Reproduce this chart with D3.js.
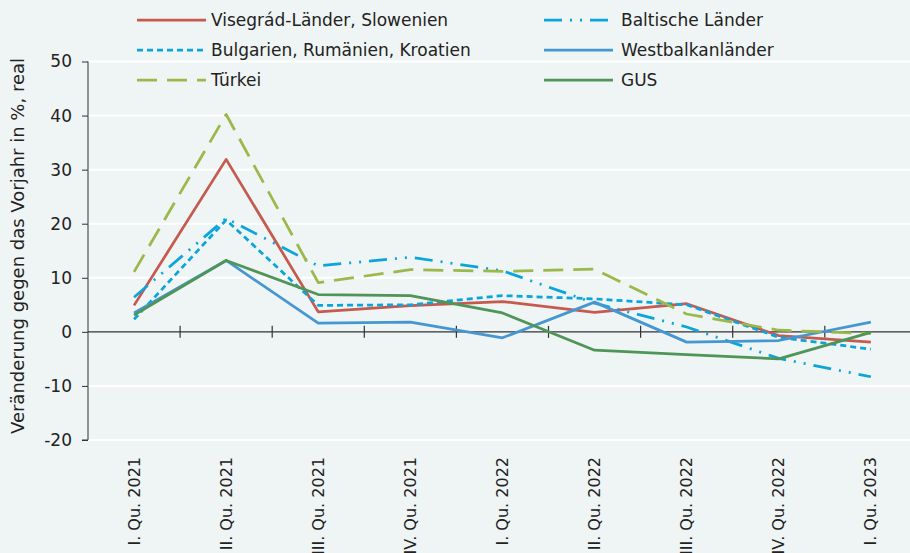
<!DOCTYPE html>
<html lang="de">
<head>
    <meta charset="UTF-8">
    <title>Veränderung gegen das Vorjahr</title>
</head>
<script src="https://d3js.org/d3.v7.min.js"></script>
<style>
    body { margin: 0; }
    svg { display: block; font-family: "DejaVu Sans", sans-serif; }
    .line { fill: none; stroke-width: 2.75px; stroke-linejoin: round; }
</style>
<body>
<svg width="910" height="553"></svg>

<script>
    // Daten
    var quarters = ["I. Qu. 2021", "II. Qu. 2021", "III. Qu. 2021", "IV. Qu. 2021",
        "I. Qu. 2022", "II. Qu. 2022", "III. Qu. 2022", "IV. Qu. 2022", "I. Qu. 2023"];

    var visegrad   = [4.9, 31.9, 3.7, 4.85, 5.6, 3.6, 5.2, -0.7, -1.9];
    var baltikum   = [6.4, 21.0, 12.2, 13.8, 11.3, 5.3, 0.9, -4.9, -8.3];
    var bulgarien  = [2.3, 20.7, 4.9, 5.0, 6.7, 6.1, 5.0, -1.0, -3.2];
    var westbalkan = [3.5, 13.2, 1.6, 1.8, -1.1, 5.5, -1.9, -1.6, 1.8];
    var tuerkei    = [11.1, 40.2, 9.1, 11.5, 11.2, 11.6, 3.3, 0.3, -0.3];
    var gus        = [3.1, 13.2, 6.9, 6.7, 3.5, -3.4, -4.2, -5.0, -0.1];

    var yTicks = [-20, -10, 0, 10, 20, 30, 40, 50];
    var yLabel = "Veränderung gegen das Vorjahr in %, real";

    var series = [
        {name: "Visegrád-Länder, Slowenien", values: visegrad, color: "#C55A4F", dash: null},
        {name: "Baltische Länder", values: baltikum, color: "#0AA5DC", dash: "18,8,2,8,2,8"},
        {name: "Bulgarien, Rumänien, Kroatien", values: bulgarien, color: "#0AA5DC", dash: "6,4"},
        {name: "Westbalkanländer", values: westbalkan, color: "#4597D2", dash: null},
        {name: "Türkei", values: tuerkei, color: "#9BB84A", dash: "20,10"},
        {name: "GUS", values: gus, color: "#4E9557", dash: null}
    ];

    var svg = d3.select("svg"),
        W = +svg.attr("width"),
        H = +svg.attr("height"),
        plotLeft = 88, plotTop = 61.5, plotBottom = 440;

    svg.append("rect").attr("width", W).attr("height", H).attr("fill", "#EFF4F4");

    var x = d3.scaleBand().domain(quarters).range([plotLeft, plotLeft + 92.1 * quarters.length]),
        y = d3.scaleLinear().domain([-20, 50]).range([plotBottom, plotTop]);

    // Gitterlinien
    svg.append("g")
        .selectAll("line")
        .data(yTicks.filter(function(t) { return t !== 0; }))
        .enter().append("line")
        .attr("x1", plotLeft).attr("x2", W)
        .attr("y1", function(d) { return y(d); })
        .attr("y2", function(d) { return y(d); })
        .attr("stroke", "#fff")
        .attr("stroke-width", 2);

    // y-Achse
    var yAxis = svg.append("g")
        .attr("transform", "translate(" + plotLeft + ",0)")
        .call(d3.axisLeft(y).tickValues(yTicks).tickSize(6).tickPadding(10)
            .tickFormat(function(d) { return String(d); }));
    yAxis.selectAll("path, line").attr("stroke", "#333");
    yAxis.selectAll("text").attr("font-size", 17).attr("fill", "#222")
        .attr("font-family", "DejaVu Sans, sans-serif");
    yAxis.select(".domain").attr("d", "M0," + y(50) + "V" + y(-20) + "H-6");

    svg.append("text")
        .attr("transform", "translate(18,246) rotate(-90)")
        .attr("text-anchor", "middle")
        .attr("dy", "0.35em")
        .attr("font-size", 18)
        .attr("fill", "#222")
        .text(yLabel);

    // Nulllinie mit Kreuz-Ticks
    var y0 = y(0);
    svg.append("line")
        .attr("x1", plotLeft).attr("x2", W)
        .attr("y1", y0).attr("y2", y0)
        .attr("stroke", "#333").attr("stroke-width", 1.2);
    svg.append("g")
        .selectAll("line")
        .data(quarters.slice(1))
        .enter().append("line")
        .attr("x1", function(d) { return x(d); })
        .attr("x2", function(d) { return x(d); })
        .attr("y1", y0 - 6).attr("y2", y0 + 6)
        .attr("stroke", "#333").attr("stroke-width", 1.2);

    // Quartalsbeschriftung
    svg.append("g")
        .selectAll("text")
        .data(quarters)
        .enter().append("text")
        .attr("transform", function(d) {
            return "translate(" + (x(d) + x.bandwidth() / 2) + ",457) rotate(-90)";
        })
        .attr("text-anchor", "end")
        .attr("dy", "0.35em")
        .attr("font-size", 16)
        .attr("fill", "#222")
        .text(function(d) { return d; });

    // Linien
    var line = d3.line()
        .x(function(d, i) { return x(quarters[i]) + x.bandwidth() / 2; })
        .y(function(d) { return y(d); });

    svg.append("g")
        .selectAll("path")
        .data(series)
        .enter().append("path")
        .attr("class", "line")
        .attr("d", function(d) { return line(d.values); })
        .attr("stroke", function(d) { return d.color; })
        .attr("stroke-dasharray", function(d) { return d.dash; });

    // Legende
    var legend = svg.append("g")
        .selectAll("g")
        .data(series)
        .enter().append("g")
        .attr("transform", function(d, i) {
            return "translate(" + (i % 2 ? 544 : 137) + "," + (20 + 30 * Math.floor(i / 2)) + ")";
        });
    legend.append("line")
        .attr("x1", 0).attr("x2", 69)
        .attr("stroke", function(d) { return d.color; })
        .attr("stroke-width", 2.75)
        .attr("stroke-dasharray", function(d) { return d.dash; });
    legend.append("text")
        .attr("x", function(d, i) { return i % 2 ? 77 : 74; })
        .attr("dy", "0.35em")
        .attr("font-size", 17)
        .attr("fill", "#222")
        .text(function(d) { return d.name; });
</script>
</body>
</html>
